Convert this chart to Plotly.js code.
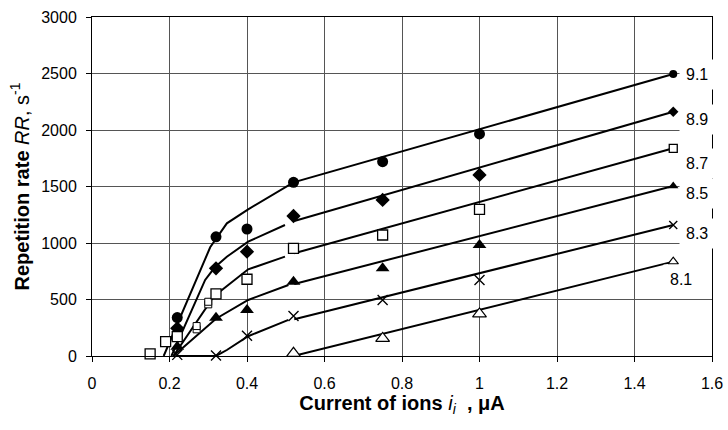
<!DOCTYPE html>
<html>
<head>
<meta charset="utf-8">
<script src="https://cdn.plot.ly/plotly-3.0.1.min.js"></script>
<style>html,body{margin:0;padding:0;background:#fff;}#chart{width:728px;height:430px;}</style>
</head>
<body>
<div id="chart"></div>
<script>
// ---- measured points (x: current of ions, µA; y: repetition rate, s^-1) ----
const xMeas = [0.22, 0.32, 0.40, 0.52, 0.75, 1.0, 1.5];
const rr91 = [340, 1055, 1124, 1537, 1720, 1965, 2496];
const rr89 = [245, 776, 923, 1239, 1381, 1602, 2162];
const x87 = [0.15, 0.19, 0.22, 0.32, 0.40, 0.52, 0.75, 1.0, 1.5];
const rr87 = [18, 127, 171, 549, 679, 953, 1071, 1298, 1838];
const rr85 = [82, 339, 407, 658, 776, 982, 1505];
const rr83 = [10, 5, 180, 354, 496, 673, 1159];
const x81 = [0.52, 0.75, 1.0, 1.5];
const rr81 = [24, 156, 372, 835];
const xExtra = [0.27, 0.27, 0.30, 0.30];
const rrExtra = [236, 265, 457, 480];

// ---- model curves ----
const fit91X = [0.185, 0.305, 0.348, 0.403, 0.52, 1.5];
const fit91Y = [0, 962, 1174, 1298, 1537, 2496];
const fit89CurveX = [0.205, 0.292, 0.317, 0.348, 0.403, 0.498];
const fit89CurveY = [0, 673, 785, 879, 1012, 1159];
const fit89LineX = [0.522, 1.5];
const fit89LineY = [1195, 2162];
const fit87CurveX = [0.21, 0.315, 0.403, 0.498];
const fit87CurveY = [0, 530, 767, 879];
const fit87LineX = [0.522, 1.5];
const fit87LineY = [909, 1838];
const fit85CurveX = [0.21, 0.32, 0.403, 0.507];
const fit85CurveY = [0, 330, 496, 628];
const fit85LineX = [0.522, 1.5];
const fit85LineY = [637, 1505];
const fit83CurveX = [0.215, 0.32, 0.348, 0.403, 0.507];
const fit83CurveY = [0, 0, 53, 175, 320];
const fit83LineX = [0.522, 1.5];
const fit83LineY = [325, 1159];
const fit81LineX = [0.52, 1.5];
const fit81LineY = [0, 835];

// ---- curve labels ----
const labelText = ['9.1', '8.9', '8.7', '8.5', '8.3', '8.1'];
const labelX = [1.561, 1.561, 1.561, 1.561, 1.561, 1.52];
const labelY = [2490, 2095, 1705, 1440, 1080, 680];

const FONT = 'Liberation Sans, Arial, sans-serif';
const traces = [];
function line(x, y) {
  traces.push({x: x, y: y, type: 'scatter', mode: 'lines',
    line: {color: '#000', width: 2}, hoverinfo: 'skip'});
}
line(fit91X, fit91Y);
line(fit89CurveX, fit89CurveY); line(fit89LineX, fit89LineY);
line(fit87CurveX, fit87CurveY); line(fit87LineX, fit87LineY);
line(fit85CurveX, fit85CurveY); line(fit85LineX, fit85LineY);
line(fit83CurveX, fit83CurveY); line(fit83LineX, fit83LineY);
line(fit81LineX, fit81LineY);

function sizes(xs, big, small) { return xs.map(v => v >= 1.4 ? small : big); }
function markers(x, y, symbol, fill, lw, big, small) {
  traces.push({x: x, y: y, type: 'scatter', mode: 'markers', cliponaxis: false,
    marker: {symbol: symbol, color: fill, opacity: 1, size: sizes(x, big, small),
      line: {color: '#000', width: lw}}, hoverinfo: 'skip'});
}
markers(xExtra, rrExtra, 'square', '#fff', 1, 7, 7);
markers(xMeas, rr91, 'circle', '#000', 0, 11, 8);
markers(xMeas, rr89, 'diamond', '#000', 0, 11, 8);
markers(x87, rr87, 'square', '#fff', 1.3, 10, 8);
markers(xMeas, rr85, 'triangle-up', '#000', 0, 12, 9);
markers(xMeas, rr83, 'x-thin', '#000', 1.4, 10, 8);
markers(x81, rr81, 'triangle-up', '#fff', 1.2, 12, 9);

const annotations = labelText.map((t, i) => ({
  x: labelX[i], y: labelY[i], xref: 'x', yref: 'y', text: t, showarrow: false,
  font: {family: FONT, size: 16, color: '#000'}, bgcolor: '#fff', borderpad: 6
}));

const layout = {
  width: 728, height: 430,
  margin: {l: 92, r: 16, t: 17, b: 74},
  paper_bgcolor: '#fff', plot_bgcolor: '#fff',
  showlegend: false,
  font: {family: FONT, size: 16, color: '#000'},
  xaxis: {
    range: [0, 1.6], dtick: 0.2, tick0: 0,
    showgrid: true, gridcolor: '#555', gridwidth: 1,
    showline: true, linecolor: '#000', linewidth: 1, mirror: true,
    ticks: 'outside', ticklen: 5, tickcolor: '#000', ticklabelstandoff: 8,
    zeroline: false,
    tickfont: {family: FONT, size: 16},
    title: {text: '<b>Current of ions</b> <i>i<sub>i</sub></i>  <b>, μA</b>',
      font: {family: FONT, size: 20}, standoff: 4}
  },
  yaxis: {
    range: [0, 3000], dtick: 500, tick0: 0,
    showgrid: true, gridcolor: '#555', gridwidth: 1,
    showline: true, linecolor: '#000', linewidth: 1, mirror: true,
    ticks: 'outside', ticklen: 5, tickcolor: '#000', ticklabelstandoff: 6,
    zeroline: false,
    tickfont: {family: FONT, size: 16},
    title: {text: '<b>Repetition rate</b> <i>RR</i>, s<sup>-1</sup>',
      font: {family: FONT, size: 20}, standoff: 6}
  },
  annotations: annotations
};

Plotly.newPlot('chart', traces, layout, {displayModeBar: false, staticPlot: true});
</script>
</body>
</html>
